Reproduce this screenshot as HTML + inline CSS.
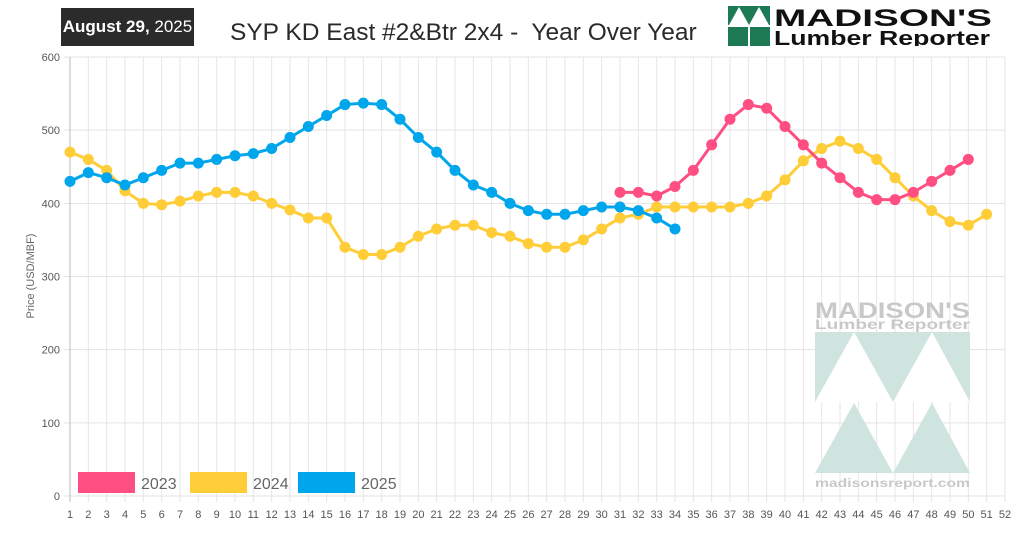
<!DOCTYPE html>
<html><head><meta charset="utf-8">
<style>
body{margin:0;background:#fff;font-family:"Liberation Sans",sans-serif;}
#wrap{position:relative;width:1024px;height:535px;overflow:hidden;}
</style></head>
<body><div id="wrap">
<svg id="chart" width="1024" height="535">
<g id="grid"></g>
<g id="wm">
  <text x="815" y="318" font-size="22" font-weight="bold" fill="#c8c8c8" font-family="Liberation Sans" textLength="155" lengthAdjust="spacingAndGlyphs">MADISON'S</text>
  <text x="815" y="329" font-size="14" font-weight="bold" fill="#c8c8c8" font-family="Liberation Sans" textLength="155" lengthAdjust="spacingAndGlyphs">Lumber Reporter</text>
  <rect x="815" y="332" width="155" height="70" fill="#cfe4de"/>
  <polygon points="815,402 854,332 893,402" fill="#fff"/>
  <polygon points="893,402 932,332 970,402" fill="#fff"/>
  <polygon points="815,473 854,403 893,473" fill="#cfe4de"/>
  <polygon points="893,473 932,403 970,473" fill="#cfe4de"/>
  <text x="815" y="487" font-size="12" font-weight="bold" fill="#c8c8c8" font-family="Liberation Sans" textLength="155" lengthAdjust="spacingAndGlyphs">madisonsreport.com</text>
</g>
<g id="series"></g>
<text x="34" y="276" transform="rotate(-90 34 276)" text-anchor="middle" font-size="11" fill="#666">Price (USD/MBF)</text>
</svg>
<div style="position:absolute;left:61px;top:8px;width:133px;height:38px;background:#2b2b2b;color:#fff;font-size:17px;line-height:38px;text-align:center;"><b>August 29,</b> 2025</div>
<div style="position:absolute;left:230px;top:19px;font-size:24.5px;color:#2a2a2a;white-space:pre;">SYP KD East #2&amp;Btr 2x4 -  Year Over Year</div>
<div style="position:absolute;left:728px;top:6px;width:270px;height:40px;">
<svg width="270" height="40"><rect x="0" y="0" width="42" height="40" fill="#1e7a55"/>
<polygon points="1,19 11,1 21,19" fill="#fff"/><polygon points="21,19 31,1 41,19" fill="#fff"/>
<rect x="0" y="19" width="42" height="2" fill="#fff"/><rect x="20" y="20" width="2" height="20" fill="#fff"/>
<text x="46" y="20" font-size="24" font-weight="bold" font-family="Liberation Sans" fill="#111" textLength="218" lengthAdjust="spacingAndGlyphs">MADISON'S</text>
<text x="46" y="39" font-size="20" font-weight="bold" font-family="Liberation Sans" fill="#111" textLength="216" lengthAdjust="spacingAndGlyphs">Lumber Reporter</text></svg></div>
</div>
<script>
const weeks=[];for(let i=1;i<=52;i++)weeks.push(i);
const yTicks=[0,100,200,300,400,500,600];
const s2023Start=31;
const s2023=[415,415,410,423,445,480,515,535,530,505,480,455,435,415,405,405,415,430,445,460];
const s2024=[470,460,445,417,400,398,403,410,415,415,410,400,391,380,380,340,330,330,340,355,365,370,370,360,355,345,340,340,350,365,380,385,395,395,395,395,395,400,410,432,458,475,485,475,460,435,410,390,375,370,385];
const s2025=[430,442,435,425,435,445,455,455,460,465,468,475,490,505,520,535,537,535,515,490,470,445,425,415,400,390,385,385,390,395,395,390,380,365];
const seriesNames=["2023","2024","2025"];
const colors=["#ff4f82","#ffcd38","#00a6eb"];
const NS="http://www.w3.org/2000/svg";
const X=w=>70+(w-1)*(1005-70)/51;
const Y=v=>496-v*(496-57)/600;
function mk(t,a,p){const e=document.createElementNS(NS,t);for(const k in a)e.setAttribute(k,a[k]);p.appendChild(e);return e;}
const grid=document.getElementById('grid');
weeks.forEach(w=>{
 const l=mk('line',{x1:X(w),x2:X(w),y1:57,y2:502,stroke:'#e6e6e6'},grid);
 
 
 const t=mk('text',{x:X(w),y:518,'text-anchor':'middle','font-size':11,fill:'#555'},grid);t.textContent=w;
 
 
});
yTicks.forEach(v=>{
 const l=mk('line',{x1:64,x2:1005,y1:Y(v),y2:Y(v),stroke:'#e3e3e3'},grid);
 
 
 const t=mk('text',{x:60,y:Y(v)+4,'text-anchor':'end','font-size':11,fill:'#555'},grid);t.textContent=v;
 
 
});
const ax=mk('line',{x1:70,x2:70,y1:57,y2:502,stroke:'#bbb'},grid);


const sg=document.getElementById('series');
function draw(vals,start,col,name){
 const g=mk('g',{},sg);
 
 
 const pts=vals.map((v,i)=>X(start+i)+','+Y(v)).join(' ');
 const pl=mk('polyline',{points:pts,fill:'none',stroke:col,'stroke-width':3,'stroke-linejoin':'round'},g);
 
 
 vals.forEach((v,i)=>{const c=mk('circle',{cx:X(start+i),cy:Y(v),r:5.5,fill:col},g);
  
  });
}
draw(s2024,1,colors[1],seriesNames[1]);
draw(s2025,1,colors[2],seriesNames[2]);
draw(s2023,s2023Start,colors[0],seriesNames[0]);
const lx=[78,190,298];
seriesNames.forEach((n,i)=>{
 const r=mk('rect',{x:lx[i],y:472,width:57,height:21,fill:colors[i]},sg);
 
 
 const t=mk('text',{x:lx[i]+63,y:489,'font-size':16,fill:'#666'},sg);t.textContent=n;
 
 
});
</script>
</body></html>
